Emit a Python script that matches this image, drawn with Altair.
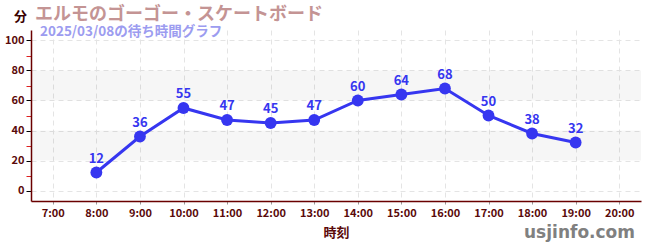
import altair as alt
import pandas as pd

hours = [8, 9, 10, 11, 12, 13, 14, 15, 16, 17, 18, 19]
waits = [12, 36, 55, 47, 45, 47, 60, 64, 68, 50, 38, 32]
band_lo = [20, 60]
band_hi = [40, 80]
x_ticks = list(range(7, 21))
y_ticks = list(range(0, 101, 10))
title_text = "エルモのゴーゴー・スケートボード"
subtitle_text = "2025/03/08の待ち時間グラフ"
watermark = "usjinfo.com"

df = pd.DataFrame({"hour": hours, "wait": waits})
bands = pd.DataFrame({"lo": band_lo, "hi": band_hi})

FONT = "Noto Sans CJK JP"
DARK = "#5a0a0a"
BLUE = "#3636f0"

xscale = alt.Scale(domain=[6.5, 20.5], nice=False, zero=False)
yscale = alt.Scale(domain=[-7, 107], nice=False, zero=False)

xaxis = alt.Axis(
    values=x_ticks, labelExpr="datum.value + ':00'", title="時刻",
    titleFont=FONT, titleFontSize=13, titleFontWeight="bold", titleColor=DARK,
    titlePadding=8,
    labelFont=FONT, labelFontSize=11, labelColor=DARK, labelFontWeight="bold",
    labelPadding=3,
    domainColor="#6a0000", domainWidth=1.5,
    tickColor="#999999", tickSize=3,
    grid=True, gridDash=[5, 4], gridColor="#e4e4e4",
)
yaxis = alt.Axis(
    values=y_ticks,
    labelExpr="datum.value % 20 == 0 ? datum.label : ''",
    title="分", titleAngle=0, titleX=-11, titleY=-14, titleAlign="center",
    titleBaseline="middle",
    titleFont=FONT, titleFontSize=13, titleFontWeight="bold", titleColor="#3a0000",
    labelFont=FONT, labelFontSize=11, labelColor=DARK, labelFontWeight="bold",
    labelPadding=2,
    domainColor="#6a0000", domainWidth=1.5,
    tickColor={"condition": {"test": "datum.value % 20 == 0", "value": "#000000"}, "value": "#dd2222"},
    tickSize=5,
    grid=True, gridDash=[5, 4], gridColor="#e4e4e4",
    gridOpacity={"condition": {"test": "datum.value % 20 == 0", "value": 1}, "value": 0},
)

band_layer = alt.Chart(bands).mark_rect(color="#000000", opacity=0.035).encode(
    y=alt.Y("lo:Q", scale=yscale, axis=yaxis),
    y2="hi:Q",
    x=alt.value(0),
    x2=alt.value(610),
)

base = alt.Chart(df).encode(
    x=alt.X("hour:Q", scale=xscale, axis=xaxis),
    y=alt.Y("wait:Q", scale=yscale, axis=yaxis),
)
line = base.mark_line(color=BLUE, strokeWidth=3)
points = base.mark_circle(color=BLUE, size=140, opacity=1)
labels = base.mark_text(dy=-14, color=BLUE, font=FONT, fontSize=13, fontWeight="bold").encode(
    text="wait:Q"
)

title_layer = alt.Chart(pd.DataFrame({"t": [title_text]})).mark_text(
    align="left", baseline="middle", font=FONT, fontSize=18, fontWeight="bold", color="#c49494"
).encode(x=alt.value(4), y=alt.value(-15), text="t:N")

subtitle_layer = alt.Chart(pd.DataFrame({"t": [subtitle_text]})).mark_text(
    align="left", baseline="middle", font=FONT, fontSize=13.5, fontWeight="bold", color="#9c9cf0"
).encode(x=alt.value(9), y=alt.value(1.5), text="t:N")

wm_layer = alt.Chart(pd.DataFrame({"t": [watermark]})).mark_text(
    align="right", baseline="middle", font="DejaVu Sans", fontSize=17, fontWeight="bold", color="#808080"
).encode(x=alt.value(604), y=alt.value(203), text="t:N")

chart = alt.layer(
    band_layer, line, points, labels, title_layer, subtitle_layer, wm_layer
).properties(
    width=610, height=171,
    padding={"left": 31, "top": 30, "right": 9, "bottom": 49},
    autosize=alt.AutoSizeParams(type="none"),
    background="white",
).configure_view(stroke=None)

chart.save("out.html", embed_options={"renderer": "svg", "actions": False})
